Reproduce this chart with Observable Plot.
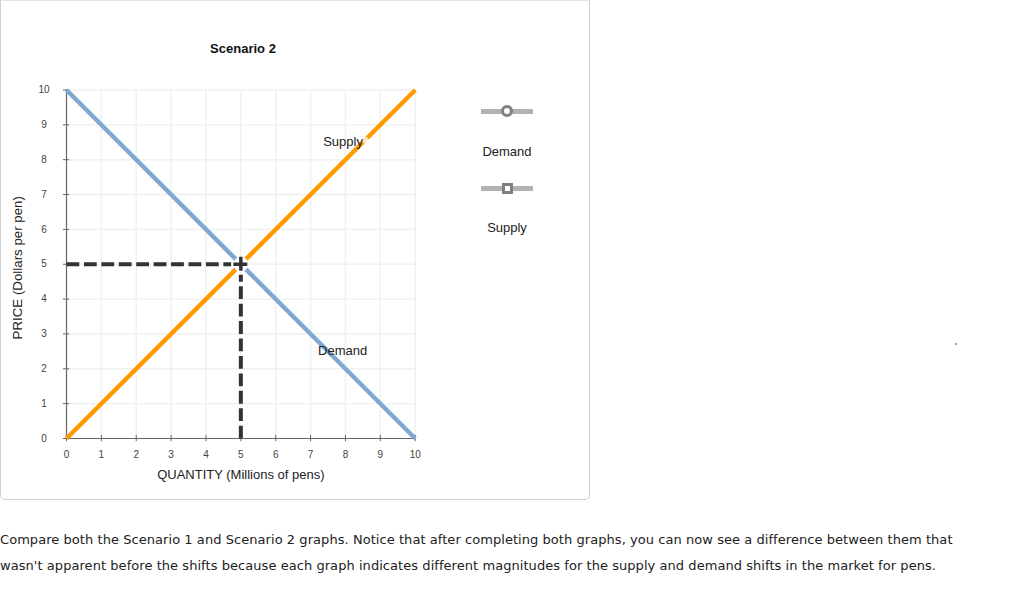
<!DOCTYPE html>
<html>
<head>
<meta charset="utf-8">
<script src="https://cdn.jsdelivr.net/npm/d3@7"></script>
<script src="https://cdn.jsdelivr.net/npm/@observablehq/plot@0.6"></script>
<style>
  html, body { margin: 0; padding: 0; background: #fff; width: 1024px; height: 593px; overflow: hidden; }
  body { position: relative; font-family: "Liberation Sans", Arial, sans-serif; color: #222; }
  #card { position: absolute; left: 0; top: 0; width: 588px; height: 498px; border: 1px solid #d0d0d0; border-top-color: #e4e4e4; border-radius: 0 0 5px 5px; }
  #chart { position: absolute; left: 0; top: 0; }
  #chart svg { display: block; }
  #title { position: absolute; left: 143px; width: 200px; top: 41px; text-align: center; font: bold 13px "Liberation Sans", Arial, sans-serif; color: #111; }
  .lg { position: absolute; left: 457px; width: 100px; text-align: center; font-size: 13px; color: #222; line-height: 16px; }
  .swatch { position: absolute; left: 481px; width: 52px; height: 5px; background: #b2b2b2; }
  .sym { position: absolute; border: 3px solid #808080; background: #fff; box-sizing: content-box; }
  #note { position: absolute; left: 0; top: 527px; width: 1024px; font: 13px/26px "DejaVu Sans", Verdana, sans-serif; letter-spacing: 0.056px; color: #222; }
  #speck { position: absolute; left: 955px; top: 343px; width: 2px; height: 2px; background: #888; border-radius: 1px; }
</style>
</head>
<body>
<div id="card"></div>
<div id="chart"></div>
<div id="title">Scenario 2</div>
<div class="swatch" style="top:109px"></div>
<div class="sym" style="left:501px;top:105px;width:6px;height:6px;border-radius:50%"></div>
<div class="lg" style="top:144px">Demand</div>
<div class="swatch" style="top:185.5px"></div>
<div class="sym" style="left:502px;top:183px;width:5px;height:5px"></div>
<div class="lg" style="top:220px">Supply</div>
<div id="speck"></div>
<div id="note">Compare both the Scenario 1 and Scenario 2 graphs. Notice that after completing both graphs, you can now see a difference between them that<br>wasn't apparent before the shifts because each graph indicates different magnitudes for the supply and demand shifts in the market for pens.</div>
<script>
const ticks = [0, 1, 2, 3, 4, 5, 6, 7, 8, 9, 10];
const demandQ = [0, 10];
const demandP = [10, 0];
const supplyQ = [0, 10];
const supplyP = [0, 10];
const eqQ = 5;
const eqP = 5;
const xLabel = "QUANTITY (Millions of pens)";
const yLabel = "PRICE (Dollars per pen)";
const labels = [
  {x: 7.93, y: 8.52, text: "Supply"},
  {x: 7.92, y: 2.53, text: "Demand"}
];
const demand = demandQ.map((q, i) => ({x: q, y: demandP[i]}));
const supply = supplyQ.map((q, i) => ({x: q, y: supplyP[i]}));
const axisColor = "#666";
const plot = Plot.plot({
  width: 590, height: 500,
  marginLeft: 66, marginRight: 175.3, marginTop: 89.5, marginBottom: 62,
  x: {domain: [0, 10], label: null},
  y: {domain: [0, 10], label: null},
  style: {fontFamily: '"Liberation Sans", Arial, sans-serif', background: "transparent"},
  marks: [
    Plot.ruleX(ticks.slice(1), {x: d => d, stroke: "#f0f0f0", strokeWidth: 1.4}),
    Plot.ruleY(ticks.slice(1), {y: d => d, stroke: "#f0f0f0", strokeWidth: 1.4}),
    Plot.ruleX(ticks, {x: d => d, y1: -0.09, y2: 0.09, stroke: axisColor}),
    Plot.ruleY(ticks, {y: d => d, x1: -0.09, x2: 0.09, stroke: axisColor}),
    Plot.ruleX([0], {stroke: axisColor, strokeWidth: 1.2}),
    Plot.ruleY([0], {stroke: axisColor, strokeWidth: 1.2}),
    Plot.axisX({ticks, tickSize: 0, tickPadding: 12, fontSize: 10, color: "#444", label: null, tickFormat: d => d}),
    Plot.axisY({ticks, tickSize: 0, tickPadding: 22.5, fontSize: 10, color: "#444", label: null, tickFormat: d => d, textAnchor: "middle"}),
    Plot.line(demand, {x: "x", y: "y", stroke: "#7fa8d2", strokeWidth: 4.5, strokeLinecap: "butt"}),
    Plot.line(supply, {x: "x", y: "y", stroke: "#ff9900", strokeWidth: 4.5, strokeLinecap: "butt"}),
    Plot.line([{x: 8.5, y: 8.5}, {x: 8.63, y: 8.63}], {x: "x", y: "y", stroke: "#fff", strokeOpacity: 0.75, strokeWidth: 5.5, strokeLinecap: "butt"}),
    Plot.dot([{x: eqQ, y: eqP}], {x: "x", y: "y", r: 7.5, fill: "#fff", stroke: "none"}),
    Plot.line([{x: 0, y: eqP}, {x: 4.72, y: eqP}], {x: "x", y: "y", stroke: "#333", strokeWidth: 4, strokeDasharray: "12.8,4.63", strokeLinecap: "butt"}),
    Plot.line([{x: eqQ, y: 0}, {x: eqQ, y: 4.7}], {x: "x", y: "y", stroke: "#333", strokeWidth: 4, strokeDasharray: "12.8,4.63", strokeLinecap: "butt"}),
    Plot.ruleX([eqQ], {y1: eqP - 0.2, y2: eqP + 0.2, stroke: "#333", strokeWidth: 3.5}),
    Plot.ruleY([eqP], {x1: eqQ - 0.2, x2: eqQ + 0.2, stroke: "#333", strokeWidth: 3.5}),
    Plot.text(labels, {x: "x", y: "y", text: "text", fontSize: 13, fill: "#222"}),
    Plot.text([xLabel], {x: () => 5, frameAnchor: "bottom", dy: 36, text: d => d, fontSize: 13, fill: "#222", lineAnchor: "middle"}),
    Plot.text([yLabel], {y: () => 5, frameAnchor: "left", dx: -49, dy: 3.5, text: d => d, fontSize: 13.3, fill: "#222", rotate: -90, textAnchor: "middle"})
  ]
});
document.getElementById("chart").appendChild(plot);
</script>
</body>
</html>
